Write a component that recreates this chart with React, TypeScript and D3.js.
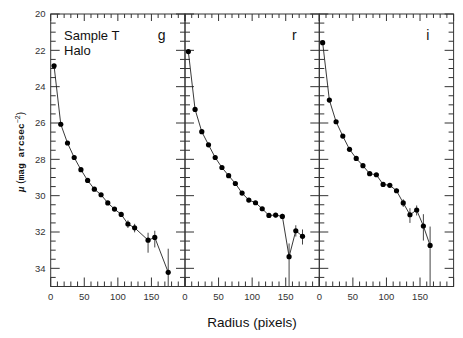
import React, { useEffect, useRef } from 'react';
import * as d3 from 'd3';

// radius (pixels) of each annulus
const radiusG = [5, 15, 25, 35, 45, 55, 65, 75, 85, 95, 105, 115, 125, 145, 155, 175];
const radiusR = [5, 15, 25, 35, 45, 55, 65, 75, 85, 95, 105, 115, 125, 135, 145, 155, 165, 175];
const radiusI = [5, 15, 25, 35, 45, 55, 65, 75, 85, 95, 105, 115, 125, 135, 145, 155, 165];

// surface brightness (mag arcsec^-2)
const muG = [22.85, 26.07, 27.1, 27.9, 28.57, 29.16, 29.64, 29.95, 30.4, 30.74, 31.03, 31.56, 31.77, 32.45, 32.3, 34.22];
const muR = [22.07, 25.25, 26.48, 27.2, 27.9, 28.45, 28.9, 29.33, 29.86, 30.24, 30.39, 30.72, 31.09, 31.07, 31.14, 33.36, 31.93, 32.24];
const muI = [21.58, 24.74, 25.93, 26.72, 27.45, 27.95, 28.35, 28.79, 28.85, 29.38, 29.43, 29.73, 30.4, 31.05, 30.79, 31.67, 32.74];

// error bars (bright side / faint side)
const errUpG = [0.04, 0.04, 0.04, 0.04, 0.05, 0.05, 0.05, 0.06, 0.07, 0.08, 0.1, 0.2, 0.22, 0.41, 0.37, 1.3];
const errDownG = [0.04, 0.04, 0.04, 0.04, 0.05, 0.05, 0.05, 0.06, 0.07, 0.08, 0.1, 0.22, 0.25, 0.69, 0.55, 2];
const errUpR = [0.04, 0.04, 0.04, 0.04, 0.05, 0.05, 0.05, 0.06, 0.07, 0.08, 0.1, 0.1, 0.12, 0.12, 0.14, 0.73, 0.3, 0.38];
const errDownR = [0.04, 0.04, 0.04, 0.04, 0.05, 0.05, 0.05, 0.06, 0.07, 0.08, 0.1, 0.1, 0.12, 0.12, 0.14, 2.5, 0.32, 0.45];
const errUpI = [0.04, 0.04, 0.04, 0.04, 0.05, 0.05, 0.05, 0.06, 0.07, 0.08, 0.1, 0.12, 0.2, 0.36, 0.25, 0.65, 1.04];
const errDownI = [0.04, 0.04, 0.04, 0.04, 0.05, 0.05, 0.05, 0.06, 0.07, 0.08, 0.1, 0.12, 0.22, 0.45, 0.3, 0.8, 3];

const bandNames = ['g', 'r', 'i'];
const yTickLabels = [20, 22, 24, 26, 28, 30, 32, 34];
const xTickLabels = [0, 50, 100, 150];

const W = 463;
const H = 338;
const FONT = '"Liberation Sans", Arial, Helvetica, sans-serif';

const App = () => {
  const svgRef = useRef(null);

  useEffect(() => {
    const svg = d3.select(svgRef.current);
    svg.selectAll('*').remove();

    const top = 14;
    const bottom = 286.5;
    const panelW = 134.3;
    const lefts = [50.7, 185, 319.3];

    const y = d3.scaleLinear().domain([20, 35]).range([top, bottom]);

    const bands = [
      { r: radiusG, mu: muG, up: errUpG, dn: errDownG },
      { r: radiusR, mu: muR, up: errUpR, dn: errDownR },
      { r: radiusI, mu: muI, up: errUpI, dn: errDownI },
    ];

    const defs = svg.append('defs');

    bands.forEach((band, p) => {
      const left = lefts[p];
      const x = d3.scaleLinear().domain([0, 200]).range([left, left + panelW]);
      const g = svg.append('g');

      defs.append('clipPath').attr('id', `clip${p}`)
        .append('rect')
        .attr('x', left).attr('y', top)
        .attr('width', panelW).attr('height', bottom - top);

      // frame
      g.append('rect')
        .attr('x', left).attr('y', top)
        .attr('width', panelW).attr('height', bottom - top)
        .attr('fill', 'none')
        .attr('stroke', '#333')
        .attr('stroke-width', 1);

      // y ticks on both sides
      d3.range(20, 35.01, 0.5).forEach(v => {
        const major = Math.abs(v % 2) < 1e-6;
        const len = major ? 9 : 5;
        const yy = y(v);
        g.append('line').attr('x1', left).attr('x2', left + len).attr('y1', yy).attr('y2', yy)
          .attr('stroke', '#333').attr('stroke-width', 1);
        g.append('line').attr('x1', left + panelW).attr('x2', left + panelW - len).attr('y1', yy).attr('y2', yy)
          .attr('stroke', '#333').attr('stroke-width', 1);
      });

      // x ticks top and bottom
      d3.range(0, 201, 10).forEach(v => {
        const major = v % 50 === 0;
        const lenB = major ? 9 : 5;
        const lenT = major ? 7 : 4;
        const xx = x(v);
        g.append('line').attr('x1', xx).attr('x2', xx).attr('y1', bottom).attr('y2', bottom - lenB)
          .attr('stroke', '#333').attr('stroke-width', 1);
        g.append('line').attr('x1', xx).attr('x2', xx).attr('y1', top).attr('y2', top + lenT)
          .attr('stroke', '#333').attr('stroke-width', 1);
      });

      // x tick labels
      xTickLabels.forEach(v => {
        g.append('text')
          .attr('x', x(v)).attr('y', 300)
          .attr('text-anchor', 'middle')
          .style('font-family', FONT)
          .style('font-size', '9.5px')
          .style('fill', '#333')
          .text(v);
      });

      const data = band.r.map((r, i) => ({ r, mu: band.mu[i], up: band.up[i], dn: band.dn[i] }));
      const plot = g.append('g').attr('clip-path', `url(#clip${p})`);

      // error bars
      plot.selectAll('.err')
        .data(data)
        .enter()
        .append('line')
        .attr('x1', d => x(d.r)).attr('x2', d => x(d.r))
        .attr('y1', d => y(d.mu - d.up)).attr('y2', d => y(d.mu + d.dn))
        .attr('stroke', '#444')
        .attr('stroke-width', 1);

      // profile line
      const line = d3.line().x(d => x(d.r)).y(d => y(d.mu));
      plot.append('path')
        .datum(data)
        .attr('d', line)
        .attr('fill', 'none')
        .attr('stroke', '#222')
        .attr('stroke-width', 0.9);

      // points
      plot.selectAll('.pt')
        .data(data)
        .enter()
        .append('circle')
        .attr('cx', d => x(d.r)).attr('cy', d => y(d.mu))
        .attr('r', 2.6)
        .attr('fill', '#000');

      // band label
      g.append('text')
        .attr('x', left + 107).attr('y', 40)
        .style('font-family', FONT)
        .style('font-size', '14px')
        .style('fill', '#111')
        .text(bandNames[p]);
    });

    // y tick labels (first panel only)
    yTickLabels.forEach(v => {
      svg.append('text')
        .attr('x', 45.5).attr('y', y(v) + 3.3)
        .attr('text-anchor', 'end')
        .style('font-family', FONT)
        .style('font-size', '9.5px')
        .style('fill', '#333')
        .text(v);
    });

    // sample label
    svg.append('text')
      .attr('x', 64).attr('y', 39.5)
      .style('font-family', FONT).style('font-size', '13px').style('fill', '#111')
      .text('Sample T');
    svg.append('text')
      .attr('x', 64).attr('y', 54.5)
      .style('font-family', FONT).style('font-size', '13px').style('fill', '#111')
      .text('Halo');

    // x axis title
    svg.append('text')
      .attr('x', 252).attr('y', 327)
      .attr('text-anchor', 'middle')
      .style('font-family', FONT).style('font-size', '13.5px').style('fill', '#111')
      .text('Radius (pixels)');

    // y axis title
    const yt = svg.append('text')
      .attr('transform', 'translate(24,152) rotate(-90)')
      .attr('text-anchor', 'middle')
      .style('font-size', '10px')
      .style('fill', '#111');
    yt.append('tspan').style('font-family', 'serif').style('font-style', 'italic').style('font-weight', 'bold').text('μ');
    yt.append('tspan').style('font-family', FONT).text(' (');
    yt.append('tspan').style('font-family', '"Liberation Mono", "DejaVu Sans Mono", monospace').style('font-weight', 'bold').style('font-size', '9.5px').text('mag arcsec');
    yt.append('tspan').attr('dy', -4).style('font-family', FONT).style('font-size', '7px').text('−2');
    yt.append('tspan').attr('dy', 4).style('font-family', FONT).text(')');
  }, []);

  return (
    <svg
      ref={svgRef}
      width={W}
      height={H}
      style={{ position: 'absolute', left: 0, top: 0, background: '#fff' }}
    />
  );
};

export default App;
